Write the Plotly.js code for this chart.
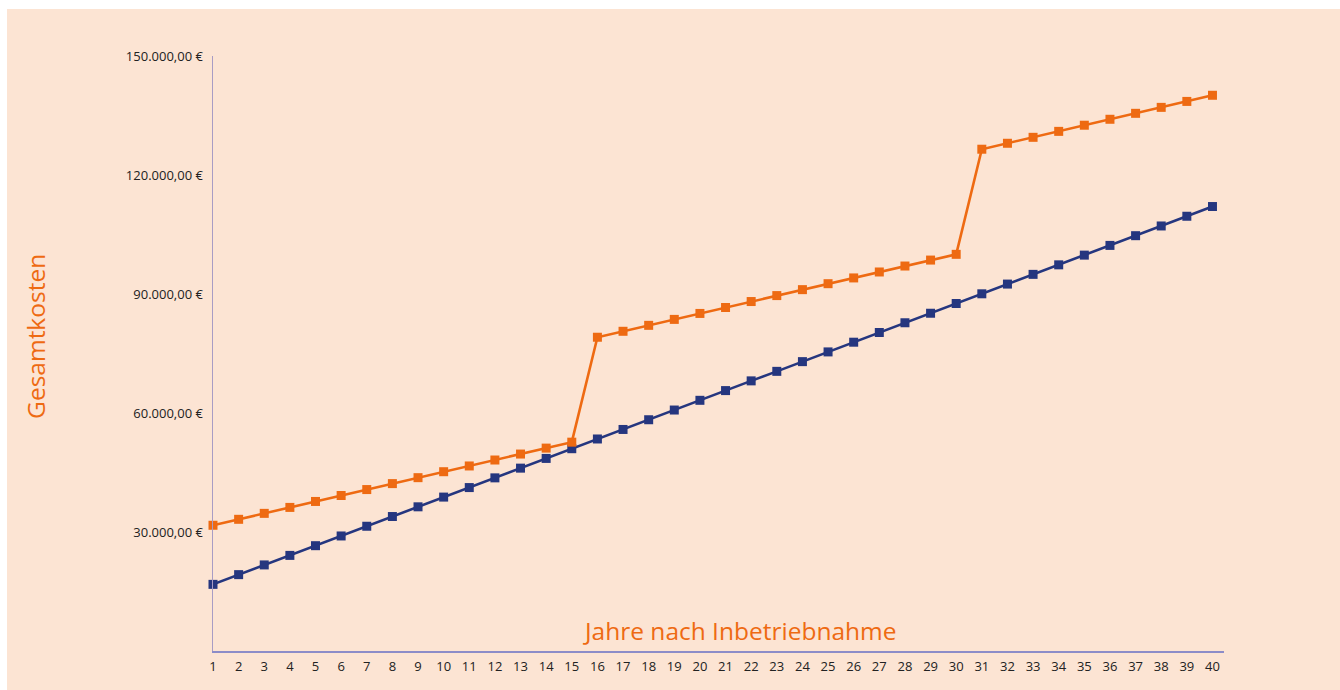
<!DOCTYPE html>
<html>
<head>
<meta charset="utf-8">
<script src="https://cdn.plot.ly/plotly-3.0.1.min.js"></script>
<style>
  html, body { margin: 0; padding: 0; background: #ffffff; width: 1340px; height: 690px; overflow: hidden; }
  #chart { position: absolute; left: 7px; top: 9px; width: 1333px; height: 681px; }
</style>
</head>
<body>
<div id="chart"></div>
<script>
const years = [1,2,3,4,5,6,7,8,9,10,11,12,13,14,15,16,17,18,19,20,21,22,23,24,25,26,27,28,29,30,31,32,33,34,35,36,37,38,39,40];

const blueSeries = [16800, 19250, 21700, 24100, 26550, 29000, 31450, 33900, 36350, 38800,
  41200, 43650, 46100, 48550, 51000, 53450, 55850, 58300, 60750, 63200,
  65650, 68100, 70500, 72950, 75400, 77850, 80300, 82750, 85150, 87600,
  90050, 92500, 94950, 97350, 99800, 102250, 104700, 107150, 109600, 112050];

const orangeSeries = [31700, 33200, 34700, 36200, 37700, 39200, 40700, 42200, 43700, 45200,
  46650, 48150, 49650, 51150, 52650, 79100, 80600, 82100, 83600, 85100,
  86600, 88100, 89600, 91100, 92600, 94050, 95550, 97050, 98550, 100000,
  126500, 128000, 129500, 131000, 132550, 134050, 135550, 137050, 138550, 140100];

const yTickVals = [30000, 60000, 90000, 120000, 150000];
const yTickText = ["30.000,00 €", "60.000,00 €", "90.000,00 €", "120.000,00 €", "150.000,00 €"];

const xTitle = "Jahre nach Inbetriebnahme";
const yTitle = "Gesamtkosten";

const ORANGE = "#EE6A12";
const BLUE = "#25367F";
const FONT = "Open Sans, Lato, sans-serif";

const traces = [
  {
    x: years, y: blueSeries, type: "scatter", mode: "lines+markers",
    line: {color: BLUE, width: 2.6},
    marker: {symbol: "square", size: 9, color: BLUE},
    cliponaxis: false, hoverinfo: "skip"
  },
  {
    x: years, y: orangeSeries, type: "scatter", mode: "lines+markers",
    line: {color: ORANGE, width: 2.6},
    marker: {symbol: "square", size: 9, color: ORANGE},
    cliponaxis: false, hoverinfo: "skip"
  }
];

const layout = {
  width: 1333, height: 681,
  paper_bgcolor: "#FCE4D3",
  plot_bgcolor: "#FCE4D3",
  showlegend: false,
  margin: {l: 206, r: 116, t: 47, b: 39},
  font: {family: FONT, size: 13, color: "#222222"},
  xaxis: {
    range: [1, 40.45],
    tickvals: years,
    ticktext: years.map(String),
    showgrid: false, zeroline: false,
    showline: true, linecolor: "#8C8CC8", linewidth: 1.5,
    ticks: "", ticklabelstandoff: 3,
    tickfont: {family: FONT, size: 13, color: "#222222"},
    fixedrange: true
  },
  yaxis: {
    range: [0, 150000],
    tickvals: yTickVals,
    ticktext: yTickText,
    showgrid: false, zeroline: false,
    showline: true, linecolor: "#A89CC4", linewidth: 1.5,
    ticks: "", ticklabelstandoff: 6,
    tickfont: {family: FONT, size: 13, color: "#222222"},
    fixedrange: true
  },
  annotations: [
    {
      text: xTitle, xref: "paper", yref: "paper", x: 0.521, y: 0.003,
      xanchor: "center", yanchor: "bottom", showarrow: false,
      font: {family: FONT, size: 24.5, color: ORANGE}
    },
    {
      text: yTitle, xref: "paper", yref: "paper", x: -0.175, y: 0.528,
      xanchor: "center", yanchor: "middle", showarrow: false, textangle: -90,
      font: {family: FONT, size: 24.5, color: ORANGE}
    }
  ]
};

Plotly.newPlot("chart", traces, layout, {displayModeBar: false, staticPlot: true});
</script>
</body>
</html>
